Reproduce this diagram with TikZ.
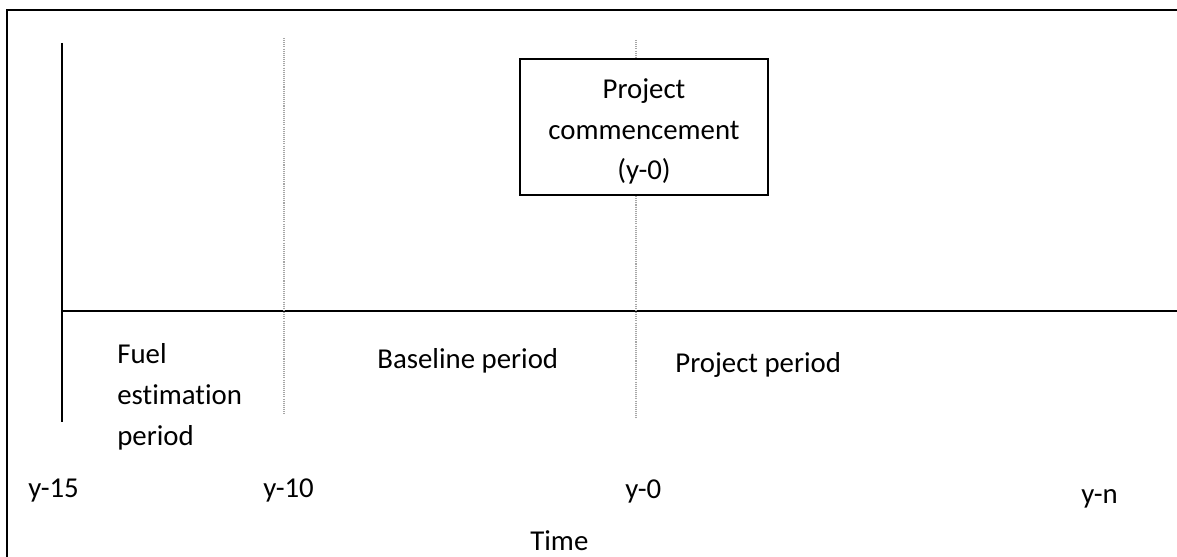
\documentclass[tikz,border=0pt]{standalone}
\usepackage{fontspec}
\setmainfont{Carlito}[Ligatures=NoCommon]

\begin{document}
\begin{tikzpicture}[x=0.02cm,y=-0.02cm,
		font=\fontsize{16.4}{23.25}\selectfont,
		lbl/.style={inner sep=0pt,anchor=base west},
		tick/.style={gray!70,line width=0.6pt,dash pattern=on 0.6pt off 0.6pt}]
		
		\useasboundingbox (0,0) rectangle (1177,557);
		
		% Frame
		\draw[line width=1.1pt] (7,557) -- (7,10) -- (1177,10);
		
		% Axes
		\coordinate (start top) at (62,43);
		\coordinate (start bottom) at (62,422);
		\coordinate (axis left) at (62,311);
		\coordinate (axis right) at (1177,311);
		\draw[line width=1.1pt] (start top) -- (start bottom);
		\draw[line width=1.1pt] (axis left) -- (axis right);
		
		% Period borders
		\draw[tick] (284,38) -- (284,415);
		\draw[tick] (636,40) -- (636,418);
		
		% Commencement box
		\draw[fill=white,line width=1.1pt] (520,59) rectangle (768,195);
		\node[inner sep=0pt,anchor=base,align=center] (commence) at (644,180)
		{Project\\commencement\\(y-0)};
		
		% Periods
		\node[lbl,align=left] (fuel) at (117,445) {Fuel\\estimation\\period};
		\node[lbl] (baseline) at (377,368) {Baseline period};
		\node[lbl] (project) at (675,373) {Project period};
		
		% Years
		\node[lbl] (y15) at (28,497) {y-15};
		\node[lbl] (y10) at (263,497) {y-10};
		\node[lbl] (y0) at (625,498) {y-0};
		\node[lbl] (yn) at (1081,503) {y-n};
		\node[lbl] (time) at (530,550) {Time};
		
	\end{tikzpicture}
\end{document}
